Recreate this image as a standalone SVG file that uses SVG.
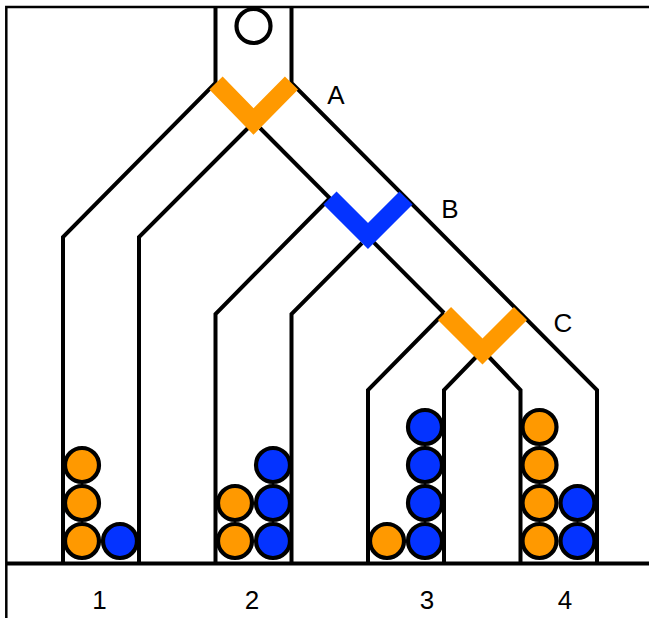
<svg xmlns="http://www.w3.org/2000/svg" width="649" height="618" viewBox="0 0 649 618">
<style>
.frame{fill:none;stroke:#000;stroke-width:2.500}
.p{fill:none;stroke:#000;stroke-width:4;stroke-linejoin:miter}
.v{fill:none;stroke-width:18.500}
.or{stroke:#ff9900}.bl{stroke:#0433ff}
.b{stroke:#000;stroke-width:4.200}
.o{fill:#ff9900}.u{fill:#0433ff}
text{font-family:"Liberation Sans",Arial,sans-serif;font-size:26px;fill:#000;text-anchor:middle}
</style>
<rect width="649" height="618" fill="#fff"/>
<g id="frame">
<path class="frame" d="M649 7H6.300V618"/>
</g>
<g id="connectors">
<path class="p" d="M215.500 7V83L63 237V563"/>
<path class="p" d="M248 128L139 237V563"/>
<path class="p" d="M291.500 7V83L597 390V563"/>
<path class="p" d="M260 128L444 313"/>
<path class="p" d="M330 198L215.500 314V563"/>
<path class="p" d="M362 243L291.500 314V563"/>
<path class="p" d="M444 313L368 390V563"/>
<path class="p" d="M476 357L444 390V563"/>
<path class="p" d="M489 357L520.500 390V563"/>
<path class="p" d="M6 563.500H649"/>
</g>
<g id="switch-a"><path class="v or" d="M216 83L253.500 121.500L291.500 83"/><text x="336" y="104">A</text></g>
<g id="switch-b"><path class="v bl" d="M330 198L368 236L406 198"/><text x="450" y="218">B</text></g>
<g id="switch-c"><path class="v or" d="M444.500 313.500L482.500 351.500L520.500 313.500"/><text x="563" y="332">C</text></g>
<g id="ball-start"><circle cx="253.500" cy="26" r="17" fill="#fff" class="b"/></g>
<g id="bin-1">
<circle class="b o" cx="82" cy="465" r="17"/><circle class="b o" cx="82" cy="503" r="17"/><circle class="b o" cx="82" cy="541" r="17"/><circle class="b u" cx="120" cy="541" r="17"/>
<text x="99.500" y="609">1</text></g>
<g id="bin-2">
<circle class="b o" cx="235" cy="503" r="17"/><circle class="b o" cx="235" cy="541" r="17"/><circle class="b u" cx="273" cy="465" r="17"/><circle class="b u" cx="273" cy="503" r="17"/><circle class="b u" cx="273" cy="541" r="17"/>
<text x="252" y="609">2</text></g>
<g id="bin-3">
<circle class="b o" cx="387" cy="541" r="17"/><circle class="b u" cx="425" cy="427" r="17"/><circle class="b u" cx="425" cy="465" r="17"/><circle class="b u" cx="425" cy="503" r="17"/><circle class="b u" cx="425" cy="541" r="17"/>
<text x="427" y="609">3</text></g>
<g id="bin-4">
<circle class="b o" cx="539.500" cy="427" r="17"/><circle class="b o" cx="539.500" cy="465" r="17"/><circle class="b o" cx="539.500" cy="503" r="17"/><circle class="b o" cx="539.500" cy="541" r="17"/><circle class="b u" cx="577.500" cy="503" r="17"/><circle class="b u" cx="577.500" cy="541" r="17"/>
<text x="565" y="609">4</text></g>
</svg>
